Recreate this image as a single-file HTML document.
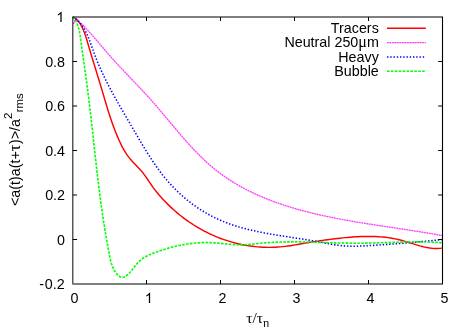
<!DOCTYPE html>
<html><head><meta charset="utf-8"><title>Acceleration autocorrelation</title>
<style>html,body{margin:0;padding:0;background:#fff;}body{width:467px;height:327px;overflow:hidden;font-family:"Liberation Sans",sans-serif;}</style></head>
<body>
<svg width="467" height="327" viewBox="0 0 467 327" style="display:block;will-change:transform">
<rect width="467" height="327" fill="#ffffff"/>
<!-- data curves -->
<g fill="none" stroke-linejoin="round">
<path d="M72.80 17.00 L74.97 18.32 L76.87 19.88 L78.54 21.66 L80.00 23.62 L81.29 25.72 L82.43 27.93 L83.46 30.22 L84.39 32.56 L85.24 34.95 L86.04 37.37 L86.79 39.82 L87.51 42.27 L88.23 44.72 L88.95 47.17 L89.67 49.61 L90.40 52.04 L91.13 54.47 L91.87 56.89 L92.60 59.31 L93.34 61.72 L94.08 64.13 L94.82 66.54 L95.56 68.94 L96.30 71.35 L97.04 73.75 L97.77 76.15 L98.51 78.55 L99.24 80.95 L99.97 83.36 L100.70 85.76 L101.42 88.17 L102.14 90.59 L102.86 93.00 L103.57 95.42 L104.28 97.84 L105.00 100.26 L105.72 102.69 L106.45 105.11 L107.18 107.53 L107.92 109.94 L108.68 112.36 L109.44 114.77 L110.23 117.17 L111.03 119.57 L111.85 121.97 L112.69 124.35 L113.55 126.73 L114.44 129.10 L115.35 131.45 L116.29 133.80 L117.26 136.14 L118.27 138.46 L119.31 140.77 L120.38 143.06 L121.50 145.34 L122.67 147.59 L123.89 149.80 L125.17 151.97 L126.53 154.09 L127.97 156.15 L129.50 158.15 L131.12 160.08 L132.81 161.94 L134.55 163.78 L136.31 165.59 L138.07 167.41 L139.80 169.25 L141.48 171.13 L143.08 173.08 L144.60 175.09 L146.06 177.14 L147.49 179.22 L148.90 181.32 L150.31 183.42 L151.75 185.50 L153.22 187.56 L154.73 189.58 L156.28 191.57 L157.87 193.52 L159.50 195.44 L161.16 197.34 L162.86 199.20 L164.59 201.03 L166.35 202.84 L168.14 204.62 L169.96 206.37 L171.80 208.10 L173.67 209.79 L175.57 211.46 L177.49 213.10 L179.44 214.70 L181.42 216.28 L183.42 217.82 L185.45 219.32 L187.50 220.80 L189.57 222.24 L191.67 223.64 L193.79 225.01 L195.93 226.34 L198.10 227.63 L200.28 228.89 L202.49 230.11 L204.72 231.29 L206.96 232.43 L209.23 233.54 L211.51 234.61 L213.81 235.63 L216.13 236.62 L218.47 237.56 L220.82 238.47 L223.19 239.33 L225.57 240.15 L227.97 240.93 L230.39 241.67 L232.81 242.37 L235.25 243.02 L237.70 243.62 L240.17 244.19 L242.64 244.71 L245.12 245.18 L247.61 245.61 L250.11 245.99 L252.61 246.33 L255.12 246.62 L257.63 246.86 L260.15 247.06 L262.67 247.21 L265.19 247.31 L267.71 247.36 L270.23 247.37 L272.75 247.32 L275.27 247.23 L277.79 247.08 L280.30 246.89 L282.81 246.64 L285.31 246.35 L287.81 246.02 L290.31 245.66 L292.80 245.27 L295.30 244.86 L297.79 244.44 L300.28 244.00 L302.77 243.56 L305.25 243.12 L307.74 242.69 L310.23 242.28 L312.73 241.87 L315.22 241.48 L317.71 241.10 L320.21 240.73 L322.70 240.37 L325.20 240.02 L327.70 239.68 L330.21 239.36 L332.72 239.04 L335.22 238.74 L337.74 238.45 L340.25 238.17 L342.77 237.90 L345.29 237.65 L347.81 237.41 L350.33 237.20 L352.86 237.00 L355.38 236.84 L357.90 236.69 L360.42 236.57 L362.95 236.49 L365.46 236.43 L367.98 236.41 L370.50 236.42 L373.01 236.47 L375.52 236.56 L378.02 236.69 L380.53 236.86 L383.02 237.07 L385.51 237.34 L388.00 237.65 L390.48 238.01 L392.96 238.42 L395.42 238.89 L397.88 239.42 L400.34 240.00 L402.78 240.64 L405.22 241.34 L407.65 242.07 L410.08 242.83 L412.51 243.61 L414.94 244.37 L417.37 245.12 L419.80 245.83 L422.25 246.48 L424.70 247.08 L427.16 247.59 L429.64 248.00 L432.13 248.30 L434.64 248.48 L437.17 248.52 L439.73 248.39 L442.30 248.10" stroke="#ff0000" stroke-width="1.45"/>
<path d="M73.50 23.80 L74.30 22.00 L75.30 19.60 L76.40 18.30 L78.40 20.80 L80.40 23.20 L82.80 24.90 L84.63 26.84 L86.45 28.81 L88.26 30.81 L90.06 32.83 L91.86 34.88 L93.66 36.94 L95.45 39.01 L97.24 41.10 L99.03 43.19 L100.82 45.29 L102.61 47.38 L104.41 49.48 L106.21 51.57 L108.02 53.66 L109.83 55.73 L111.65 57.79 L113.48 59.83 L115.32 61.86 L117.17 63.88 L119.02 65.88 L120.88 67.87 L122.75 69.86 L124.61 71.83 L126.48 73.80 L128.36 75.77 L130.23 77.73 L132.10 79.70 L133.98 81.66 L135.85 83.62 L137.72 85.59 L139.58 87.56 L141.45 89.54 L143.30 91.53 L145.15 93.52 L147.00 95.53 L148.84 97.54 L150.66 99.58 L152.48 101.62 L154.29 103.68 L156.09 105.76 L157.89 107.84 L159.68 109.94 L161.46 112.05 L163.24 114.16 L165.02 116.27 L166.80 118.40 L168.57 120.52 L170.35 122.65 L172.13 124.77 L173.91 126.90 L175.69 129.02 L177.48 131.13 L179.28 133.24 L181.08 135.34 L182.89 137.44 L184.71 139.52 L186.54 141.59 L188.38 143.64 L190.23 145.68 L192.10 147.71 L193.98 149.71 L195.88 151.70 L197.79 153.66 L199.72 155.60 L201.67 157.52 L203.64 159.41 L205.63 161.28 L207.65 163.11 L209.68 164.92 L211.74 166.69 L213.83 168.43 L215.94 170.14 L218.08 171.81 L220.24 173.44 L222.43 175.04 L224.65 176.61 L226.89 178.14 L229.15 179.63 L231.44 181.10 L233.75 182.53 L236.08 183.93 L238.43 185.29 L240.81 186.63 L243.20 187.93 L245.61 189.21 L248.04 190.45 L250.49 191.67 L252.96 192.86 L255.44 194.01 L257.93 195.14 L260.45 196.25 L262.97 197.32 L265.51 198.37 L268.06 199.40 L270.63 200.39 L273.21 201.37 L275.79 202.32 L278.39 203.24 L281.00 204.14 L283.62 205.02 L286.24 205.88 L288.87 206.71 L291.51 207.52 L294.16 208.31 L296.81 209.08 L299.46 209.83 L302.12 210.56 L304.79 211.27 L307.45 211.96 L310.12 212.64 L312.79 213.29 L315.46 213.93 L318.14 214.55 L320.81 215.16 L323.49 215.75 L326.17 216.33 L328.85 216.89 L331.53 217.44 L334.21 217.97 L336.90 218.50 L339.59 219.01 L342.27 219.51 L344.96 220.00 L347.65 220.48 L350.34 220.95 L353.04 221.41 L355.73 221.87 L358.43 222.31 L361.12 222.75 L363.82 223.19 L366.52 223.61 L369.22 224.04 L371.92 224.45 L374.62 224.87 L377.32 225.28 L380.02 225.69 L382.72 226.09 L385.43 226.50 L388.13 226.90 L390.84 227.30 L393.54 227.71 L396.25 228.11 L398.96 228.52 L401.66 228.93 L404.37 229.34 L407.08 229.75 L409.79 230.17 L412.50 230.59 L415.21 231.02 L417.92 231.45 L420.62 231.89 L423.33 232.33 L426.04 232.79 L428.75 233.25 L431.46 233.72 L434.17 234.20 L436.88 234.69 L439.59 235.19 L442.30 235.70" stroke="#ff00ff" stroke-width="1.25" stroke-opacity="0.33"/>
<path d="M73.50 23.80 L74.30 22.00 L75.30 19.60 L76.40 18.30 L78.40 20.80 L80.40 23.20 L82.80 24.90 L84.63 26.84 L86.45 28.81 L88.26 30.81 L90.06 32.83 L91.86 34.88 L93.66 36.94 L95.45 39.01 L97.24 41.10 L99.03 43.19 L100.82 45.29 L102.61 47.38 L104.41 49.48 L106.21 51.57 L108.02 53.66 L109.83 55.73 L111.65 57.79 L113.48 59.83 L115.32 61.86 L117.17 63.88 L119.02 65.88 L120.88 67.87 L122.75 69.86 L124.61 71.83 L126.48 73.80 L128.36 75.77 L130.23 77.73 L132.10 79.70 L133.98 81.66 L135.85 83.62 L137.72 85.59 L139.58 87.56 L141.45 89.54 L143.30 91.53 L145.15 93.52 L147.00 95.53 L148.84 97.54 L150.66 99.58 L152.48 101.62 L154.29 103.68 L156.09 105.76 L157.89 107.84 L159.68 109.94 L161.46 112.05 L163.24 114.16 L165.02 116.27 L166.80 118.40 L168.57 120.52 L170.35 122.65 L172.13 124.77 L173.91 126.90 L175.69 129.02 L177.48 131.13 L179.28 133.24 L181.08 135.34 L182.89 137.44 L184.71 139.52 L186.54 141.59 L188.38 143.64 L190.23 145.68 L192.10 147.71 L193.98 149.71 L195.88 151.70 L197.79 153.66 L199.72 155.60 L201.67 157.52 L203.64 159.41 L205.63 161.28 L207.65 163.11 L209.68 164.92 L211.74 166.69 L213.83 168.43 L215.94 170.14 L218.08 171.81 L220.24 173.44 L222.43 175.04 L224.65 176.61 L226.89 178.14 L229.15 179.63 L231.44 181.10 L233.75 182.53 L236.08 183.93 L238.43 185.29 L240.81 186.63 L243.20 187.93 L245.61 189.21 L248.04 190.45 L250.49 191.67 L252.96 192.86 L255.44 194.01 L257.93 195.14 L260.45 196.25 L262.97 197.32 L265.51 198.37 L268.06 199.40 L270.63 200.39 L273.21 201.37 L275.79 202.32 L278.39 203.24 L281.00 204.14 L283.62 205.02 L286.24 205.88 L288.87 206.71 L291.51 207.52 L294.16 208.31 L296.81 209.08 L299.46 209.83 L302.12 210.56 L304.79 211.27 L307.45 211.96 L310.12 212.64 L312.79 213.29 L315.46 213.93 L318.14 214.55 L320.81 215.16 L323.49 215.75 L326.17 216.33 L328.85 216.89 L331.53 217.44 L334.21 217.97 L336.90 218.50 L339.59 219.01 L342.27 219.51 L344.96 220.00 L347.65 220.48 L350.34 220.95 L353.04 221.41 L355.73 221.87 L358.43 222.31 L361.12 222.75 L363.82 223.19 L366.52 223.61 L369.22 224.04 L371.92 224.45 L374.62 224.87 L377.32 225.28 L380.02 225.69 L382.72 226.09 L385.43 226.50 L388.13 226.90 L390.84 227.30 L393.54 227.71 L396.25 228.11 L398.96 228.52 L401.66 228.93 L404.37 229.34 L407.08 229.75 L409.79 230.17 L412.50 230.59 L415.21 231.02 L417.92 231.45 L420.62 231.89 L423.33 232.33 L426.04 232.79 L428.75 233.25 L431.46 233.72 L434.17 234.20 L436.88 234.69 L439.59 235.19 L442.30 235.70" stroke="#ff00ff" stroke-width="1.25" stroke-dasharray="1.4 1.13" stroke-opacity="0.72"/>
<path d="M72.80 17.00 L75.38 18.60 L77.68 20.46 L79.75 22.55 L81.61 24.83 L83.28 27.26 L84.79 29.83 L86.17 32.49 L87.44 35.24 L88.61 38.04 L89.72 40.89 L90.77 43.78 L91.80 46.68 L92.82 49.60 L93.86 52.50 L94.93 55.38 L96.03 58.24 L97.17 61.08 L98.34 63.90 L99.54 66.69 L100.77 69.47 L102.03 72.23 L103.32 74.97 L104.63 77.70 L105.97 80.41 L107.32 83.11 L108.71 85.79 L110.11 88.47 L111.53 91.13 L112.96 93.79 L114.41 96.43 L115.88 99.07 L117.36 101.70 L118.85 104.33 L120.35 106.95 L121.86 109.57 L123.37 112.19 L124.89 114.81 L126.42 117.42 L127.95 120.04 L129.48 122.66 L131.01 125.28 L132.53 127.91 L134.06 130.54 L135.59 133.17 L137.12 135.81 L138.66 138.44 L140.20 141.07 L141.75 143.69 L143.32 146.30 L144.90 148.91 L146.49 151.50 L148.11 154.08 L149.74 156.65 L151.40 159.20 L153.08 161.72 L154.79 164.23 L156.52 166.72 L158.29 169.18 L160.09 171.62 L161.93 174.03 L163.80 176.40 L165.71 178.75 L167.67 181.06 L169.67 183.34 L171.71 185.57 L173.80 187.77 L175.94 189.93 L178.12 192.05 L180.35 194.12 L182.62 196.15 L184.92 198.14 L187.27 200.08 L189.66 201.96 L192.08 203.81 L194.54 205.60 L197.04 207.33 L199.57 209.02 L202.13 210.65 L204.72 212.23 L207.35 213.75 L210.00 215.21 L212.68 216.61 L215.38 217.96 L218.11 219.24 L220.87 220.46 L223.65 221.62 L226.45 222.72 L229.27 223.77 L232.11 224.76 L234.97 225.70 L237.85 226.60 L240.74 227.45 L243.65 228.26 L246.58 229.03 L249.52 229.76 L252.47 230.45 L255.43 231.11 L258.41 231.75 L261.39 232.35 L264.38 232.93 L267.38 233.48 L270.39 234.02 L273.40 234.53 L276.42 235.03 L279.44 235.52 L282.46 236.00 L285.49 236.47 L288.51 236.93 L291.54 237.39 L294.56 237.85 L297.58 238.31 L300.60 238.78 L303.61 239.25 L306.62 239.73 L309.62 240.23 L312.61 240.73 L315.59 241.26 L318.57 241.80 L321.53 242.36 L324.49 242.93 L327.44 243.49 L330.40 244.03 L333.35 244.54 L336.32 245.00 L339.29 245.41 L342.28 245.75 L345.28 246.01 L348.30 246.17 L351.33 246.25 L354.38 246.25 L357.44 246.18 L360.51 246.07 L363.58 245.92 L366.65 245.75 L369.71 245.56 L372.76 245.37 L375.81 245.17 L378.85 244.97 L381.89 244.77 L384.92 244.55 L387.94 244.34 L390.97 244.11 L393.99 243.89 L397.01 243.65 L400.02 243.42 L403.03 243.17 L406.05 242.93 L409.06 242.68 L412.07 242.42 L415.08 242.16 L418.09 241.89 L421.11 241.62 L424.13 241.35 L427.15 241.07 L430.17 240.78 L433.19 240.49 L436.22 240.20 L439.26 239.90 L442.30 239.60" stroke="#0000ff" stroke-width="1.55" stroke-dasharray="1.4 1.85"/>
<path d="M72.80 17.00 L74.50 19.03 L75.91 21.23 L77.07 23.58 L78.01 26.06 L78.77 28.64 L79.39 31.30 L79.89 34.02 L80.32 36.79 L80.70 39.57 L81.06 42.35 L81.44 45.12 L81.81 47.87 L82.19 50.62 L82.57 53.36 L82.95 56.09 L83.34 58.82 L83.72 61.53 L84.11 64.25 L84.49 66.95 L84.88 69.66 L85.26 72.36 L85.64 75.06 L86.01 77.76 L86.39 80.46 L86.76 83.16 L87.12 85.86 L87.48 88.56 L87.83 91.27 L88.18 93.98 L88.53 96.69 L88.87 99.41 L89.20 102.13 L89.53 104.86 L89.85 107.58 L90.18 110.31 L90.49 113.04 L90.81 115.77 L91.12 118.51 L91.43 121.24 L91.74 123.98 L92.04 126.72 L92.34 129.46 L92.64 132.20 L92.94 134.95 L93.24 137.69 L93.54 140.43 L93.84 143.17 L94.14 145.92 L94.44 148.66 L94.74 151.40 L95.04 154.14 L95.34 156.88 L95.64 159.62 L95.94 162.36 L96.25 165.10 L96.56 167.84 L96.87 170.57 L97.19 173.30 L97.50 176.03 L97.83 178.76 L98.15 181.48 L98.48 184.21 L98.81 186.92 L99.15 189.64 L99.49 192.35 L99.84 195.06 L100.20 197.77 L100.56 200.47 L100.92 203.17 L101.30 205.86 L101.68 208.55 L102.06 211.23 L102.46 213.91 L102.86 216.59 L103.27 219.27 L103.68 221.95 L104.11 224.64 L104.54 227.33 L104.98 230.02 L105.43 232.73 L105.89 235.44 L106.36 238.17 L106.84 240.91 L107.33 243.67 L107.82 246.44 L108.33 249.23 L108.85 252.04 L109.38 254.87 L109.95 257.69 L110.59 260.48 L111.34 263.21 L112.22 265.85 L113.26 268.38 L114.50 270.76 L115.97 272.98 L117.68 274.96 L119.57 276.50 L121.59 277.34 L123.65 277.24 L125.71 276.30 L127.75 274.72 L129.73 272.70 L131.63 270.43 L133.44 268.10 L135.21 265.81 L137.00 263.63 L138.89 261.61 L140.93 259.81 L143.12 258.22 L145.42 256.81 L147.83 255.54 L150.31 254.40 L152.86 253.35 L155.44 252.38 L158.04 251.44 L160.65 250.55 L163.27 249.70 L165.91 248.88 L168.55 248.11 L171.21 247.39 L173.87 246.70 L176.55 246.07 L179.23 245.48 L181.92 244.94 L184.62 244.46 L187.32 244.02 L190.03 243.64 L192.75 243.31 L195.47 243.04 L198.20 242.83 L200.93 242.68 L203.66 242.59 L206.40 242.56 L209.14 242.60 L211.88 242.70 L214.62 242.87 L217.36 243.08 L220.11 243.34 L222.85 243.61 L225.60 243.89 L228.34 244.16 L231.08 244.41 L233.83 244.62 L236.57 244.77 L239.31 244.85 L242.05 244.86 L244.79 244.77 L247.52 244.61 L250.26 244.39 L252.99 244.14 L255.73 243.85 L258.46 243.56 L261.20 243.28 L263.93 243.02 L266.67 242.79 L269.41 242.59 L272.15 242.42 L274.88 242.27 L277.62 242.15 L280.36 242.05 L283.11 241.97 L285.85 241.91 L288.59 241.88 L291.33 241.86 L294.08 241.85 L296.82 241.87 L299.56 241.89 L302.31 241.93 L305.05 241.98 L307.80 242.04 L310.54 242.11 L313.29 242.18 L316.04 242.27 L318.78 242.35 L321.53 242.44 L324.28 242.53 L327.02 242.62 L329.77 242.71 L332.52 242.79 L335.26 242.88 L338.01 242.95 L340.76 243.02 L343.50 243.09 L346.25 243.14 L349.00 243.18 L351.74 243.21 L354.49 243.23 L357.23 243.23 L359.98 243.22 L362.72 243.19 L365.47 243.15 L368.21 243.10 L370.96 243.03 L373.70 242.96 L376.45 242.88 L379.19 242.80 L381.93 242.71 L384.68 242.62 L387.42 242.53 L390.16 242.44 L392.91 242.35 L395.65 242.26 L398.39 242.18 L401.14 242.11 L403.88 242.04 L406.62 241.99 L409.37 241.94 L412.11 241.91 L414.85 241.89 L417.60 241.89 L420.34 241.90 L423.08 241.93 L425.83 241.98 L428.57 242.06 L431.32 242.15 L434.06 242.28 L436.81 242.42 L439.55 242.60 L442.30 242.80" stroke="#00ff00" stroke-width="1.6" stroke-dasharray="2.6 1.3"/>
</g>
<!-- frame -->
<g stroke="#000" fill="none">
<path d="M73.35 17.00 H442.00" stroke-width="1.05"/>
<path d="M73.35 284.00 H442.00" stroke-width="1.05"/>
<path d="M72.80 16.50 V284.50" stroke-width="1.15" stroke-opacity="0.85"/>
<path d="M442.50 16.50 V284.50" stroke-width="1.1"/>
<path d="M146.50 284.00 v-4.00 M146.50 17.00 v4.00 M220.50 284.00 v-4.00 M220.50 17.00 v4.00 M294.50 284.00 v-4.00 M294.50 17.00 v4.00 M368.50 284.00 v-4.00 M368.50 17.00 v4.00 M72.75 61.50 h4.30 M442.50 61.50 h-4.30 M72.75 106.00 h4.30 M442.50 106.00 h-4.30 M72.75 150.50 h4.30 M442.50 150.50 h-4.30 M72.75 195.00 h4.30 M442.50 195.00 h-4.30 M72.75 239.50 h4.30 M442.50 239.50 h-4.30" stroke-width="1"/>
</g>
<!-- labels -->
<g font-family="'Liberation Sans', sans-serif" font-size="14.3" fill="#000">
<text x="74.40" y="303" text-anchor="middle">0</text>
<path d="M763 0H583V1147Q518 1085 412.5 1023T223 930V1104Q374 1175 487 1276T647 1472H763Z" transform="translate(144.80,303.00) scale(0.006982,-0.006982)"/>
<text x="222.40" y="303" text-anchor="middle">2</text>
<text x="296.40" y="303" text-anchor="middle">3</text>
<text x="370.40" y="303" text-anchor="middle">4</text>
<text x="444.40" y="303" text-anchor="middle">5</text>
<path d="M763 0H583V1147Q518 1085 412.5 1023T223 930V1104Q374 1175 487 1276T647 1472H763Z" transform="translate(56.30,22.00) scale(0.006982,-0.006982)"/>
<text x="65" y="66.50" text-anchor="end">0.8</text>
<text x="65" y="111.00" text-anchor="end">0.6</text>
<text x="65" y="155.50" text-anchor="end">0.4</text>
<text x="65" y="200.00" text-anchor="end">0.2</text>
<text x="65" y="244.50" text-anchor="end">0</text>
<text x="64.7" y="289.00" text-anchor="end">-<tspan dx="0.7">0.2</tspan></text>
<text x="378.8" y="33.05" text-anchor="end">Tracers</text>
<text x="378.8" y="47.35" text-anchor="end">Neutral 250<tspan font-family="'Liberation Serif', serif" font-size="16">μ</tspan>m</text>
<text x="378.8" y="61.65" text-anchor="end">Heavy</text>
<text x="378.8" y="75.95" text-anchor="end">Bubble</text>
<text transform="translate(20,206) rotate(-90)">&lt;a(t)a(t+<tspan font-family="'Liberation Serif', serif" font-size="16.5">τ</tspan><tspan dx="0.5">)&gt;/a</tspan><tspan font-size="11.4" dy="-8">2</tspan><tspan font-size="11.4" dy="11.1" dx="0.3">rms</tspan></text>
</g>
<text font-family="'Liberation Serif', serif" font-size="15.5" fill="#000" x="246.2" y="322.6">τ/τ<tspan font-size="12" dy="4">η</tspan></text>
<!-- legend samples -->
<g fill="none">
<path d="M387 28.30 H425.8" stroke="#ff0000" stroke-width="1.45"/>
<path d="M387 42.60 H425.8" stroke="#ff00ff" stroke-width="1.25" stroke-opacity="0.33"/>
<path d="M387 42.60 H425.8" stroke="#ff00ff" stroke-width="1.25" stroke-dasharray="1.4 1.13" stroke-opacity="0.72"/>
<path d="M387 56.90 H425.8" stroke="#0000ff" stroke-width="1.55" stroke-dasharray="1.4 1.85"/>
<path d="M387 71.20 H425.8" stroke="#00ff00" stroke-width="1.6" stroke-dasharray="2.6 1.3"/>
</g>
</svg>
</body></html>
